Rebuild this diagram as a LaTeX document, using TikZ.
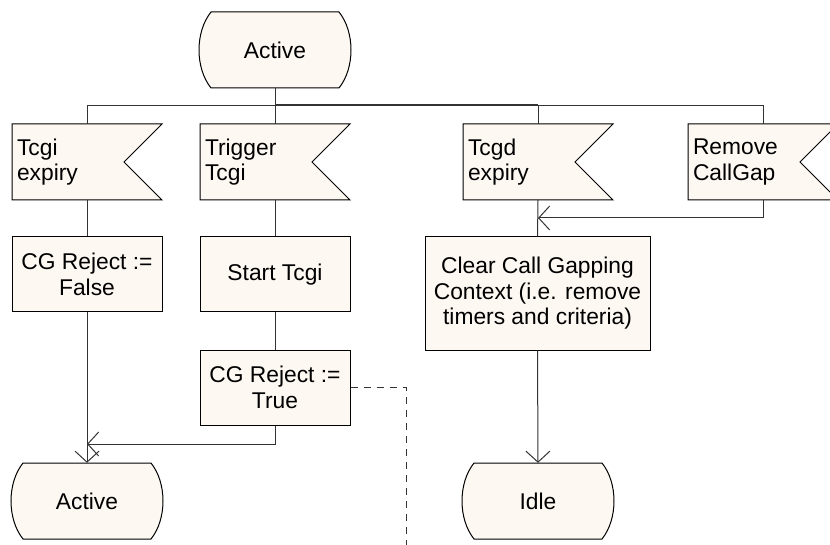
\documentclass[tikz,border=0pt]{standalone}
\usepackage{fontspec}
\setmainfont{Liberation Sans}
\usetikzlibrary{arrows.meta}
\definecolor{cream}{RGB}{253,248,242}

\begin{document}
\begin{tikzpicture}
[
	x=1pt,
	y=-1pt,
	font=\fontsize{22.8}{25.5}\selectfont,
	outline/.style={draw=black, fill=cream, line width=1pt},
	statetxt/.style={minimum width=150pt, minimum height=76pt, inner sep=0pt},
	sigtxt/.style={minimum width=150pt, minimum height=76pt, inner xsep=5pt, inner ysep=0pt, text width=140pt, align=left},
	task/.style={outline, minimum width=150pt, minimum height=75pt, inner sep=2pt, align=center},
	line/.style={draw=black!80, line width=1pt},
	arr/.style={line, -{Straight Barb[length=11pt,width=24pt]}},
	dashline/.style={line, dash pattern=on 7pt off 6pt}
]

	\useasboundingbox (0,0) rectangle (830,545);
	\clip (0,0) rectangle (830,545);

	% states
	\foreach \cx/\cy/\name/\txt in {275/50/act/Active, 87/501/actb/Active, 538/501/idle/Idle} {
		\draw[outline] (\cx-64,\cy-38) -- (\cx+64,\cy-38)
		  .. controls (\cx+80,\cy-18) and (\cx+80,\cy+18) .. (\cx+64,\cy+38)
		  -- (\cx-64,\cy+38)
		  .. controls (\cx-80,\cy+18) and (\cx-80,\cy-18) .. (\cx-64,\cy-38) -- cycle;
		\node[statetxt] (\name) at (\cx,\cy) {\txt};
	}

	% input signals
	\foreach \x/\name/\txt in {12/tcgi/{Tcgi\\expiry}, 200/trig/{Trigger\\Tcgi}, 463/tcgd/{Tcgd\\expiry}, 688/rem/{Remove\\CallGap}} {
		\draw[outline] (\x,124) -- ++(150,0) -- ++(-38,38) -- ++(38,38) -- ++(-150,0) -- cycle;
		\node[sigtxt] (\name) at (\x+75,162) {\txt};
	}

	% tasks
	\node[task] (cgfalse) at (87,274.5) {CG Reject :=\\False};
	\node[task] (start) at (275,274.5) {Start Tcgi};
	\node[task] (cgtrue) at (275,387.5) {CG Reject :=\\True};
	\node[task, minimum width=225pt, minimum height=113pt] (clear) at (537.5,293.5)
	  {Clear Call Gapping\\Context (i.e. remove\\timers and criteria)};

	% from Active to the inputs
	\draw[line] (act.south) -- ++(0,17) coordinate (bus) -| (tcgi.north);
	\draw[line] (act.south) -- (trig.north);
	\draw[line, line width=2pt] (bus) -- (bus -| tcgd.north);
	\draw[line] (bus) -| (tcgd.north);
	\draw[line] (bus) -| (rem.north);

	% left branches
	\coordinate (joinb) at (87,444);
	\coordinate (dashend) at (406,550);
	\draw[line] (tcgi.south) -- (cgfalse.north);
	\draw[arr] (cgfalse.south) -- (actb.north);
	\draw[line] (trig.south) -- (start.north);
	\draw[line] (start.south) -- (cgtrue.north);
	\draw[arr] (cgtrue.south) |- (joinb);
	\draw[dashline] (cgtrue.east) -| (dashend);

	% right branches
	\coordinate (joinc) at (538,218);
	\draw[line] (tcgd.south) -- (clear.north);
	\draw[arr] (rem.south) |- (joinc);
	\draw[arr] (clear.south) -- (idle.north);

\end{tikzpicture}
\end{document}
